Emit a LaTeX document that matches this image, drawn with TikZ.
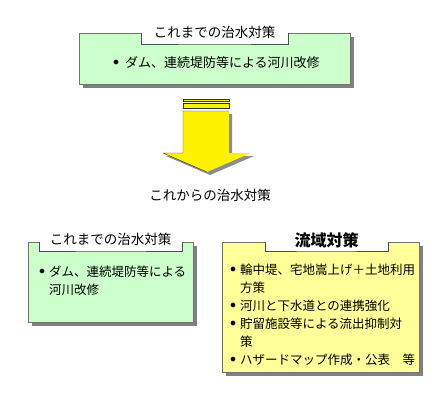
\documentclass[tikz,border=0pt]{standalone}
\usepackage{fontspec}
\setmainfont{Noto Sans CJK JP}
\usetikzlibrary{
  positioning,
  shadows,
}
\definecolor{oldgreen}{RGB}{204,255,204}
\definecolor{newyellow}{RGB}{255,255,153}
\newcommand{\bul}[1][10pt]{\makebox[#1][l]{\raisebox{1.5pt}{$\bullet$}}}
\newcommand{\ind}[1][10pt]{\hspace*{#1}}
\tikzset{
  panel/.style={
    rectangle,
    draw=black!55,
    thin,
    drop shadow={shadow xshift=4pt, shadow yshift=-4pt,
      fill=black!50, opacity=1},
  },
  oldpanel/.style={panel, fill=oldgreen},
  newpanel/.style={panel, fill=newyellow},
  tab/.style={
    rectangle,
    fill=white,
    inner sep=0pt,
    font=\fontsize{13.5}{14}\selectfont,
  },
  tab edge/.style={draw=black!70, thin},
  itemlist/.style={
    align=left,
    inner sep=0pt,
    font=\fontsize{12.5}{18}\selectfont,
  },
}

\begin{document}
\begin{tikzpicture}[x=1pt, y=-1pt]
  \useasboundingbox (0,0) rectangle (446,410);

  % these measures until now
  \node[oldpanel, minimum width=271pt, minimum height=51pt] (oldbox) at (214.5,58.5) {};
  \node[tab, minimum width=146pt, minimum height=22pt] (oldtab) at (oldbox.north) {これまでの治水対策};
  \draw[tab edge] (oldtab.west |- oldbox.north) |- (oldtab.south) -| (oldtab.east |- oldbox.north);
  \node[itemlist, font=\fontsize{13}{18}\selectfont, below right=23pt and 34pt of oldbox.north west] (oldlist)
    {\bul[12pt]ダム、連続堤防等による河川改修};

  % arrow
  \foreach \d/\col in {3/black!45, 0/yellow}
    \fill[\col, shift={(\d,\d)}] (183,111) -- (229,111) -- (229,153) -- (251,153)
      -- (207,172) -- (163,153) -- (183,153) -- cycle;
  \draw[black!80, thin] (183,153) -- (183,111) -- (229,111) (163,153) -- (183,153)
    (163,153) -- (207,172);
  \foreach \top/\bot in {99/101, 103/108}
    \draw[black!80, fill=yellow, thin] (183,\top) rectangle (229,\bot);

  \node[tab] (newhead) at (210,195) {これからの治水対策};

  % lower left
  \node[oldpanel, minimum width=165pt, minimum height=80pt] (riverbox) at (110.5,282) {};
  \node[tab, minimum width=143pt, minimum height=22pt] (rivertab) at ([yshift=2pt]riverbox.north) {これまでの治水対策};
  \draw[tab edge] (rivertab.west |- riverbox.north) |- (rivertab.south) -| (rivertab.east |- riverbox.north);
  \node[itemlist, below right=23.5pt and 11pt of riverbox.north west] (riverlist)
    {\bul ダム、連続堤防等による\\
     \ind 河川改修};

  % lower right
  \node[newpanel, minimum width=197pt, minimum height=130pt] (basinbox) at (320.5,307) {};
  \node[tab, minimum width=123pt, minimum height=21pt, font=\fontsize{16}{16}\selectfont\bfseries]
    (basintab) at ([yshift=1.5pt]basinbox.north -| 326.5,0) {流域対策};
  \draw[tab edge] (basintab.west |- basinbox.north) |- (basintab.south) -| (basintab.east |- basinbox.north);
  \node[itemlist, below right=21.5pt and 8pt of basinbox.north west] (basinlist)
    {\bul 輪中堤、宅地嵩上げ＋土地利用\\
     \ind 方策\\
     \bul 河川と下水道との連携強化\\
     \bul 貯留施設等による流出抑制対\\
     \ind 策\\
     \bul ハザードマップ作成・公表　等};
\end{tikzpicture}
\end{document}
